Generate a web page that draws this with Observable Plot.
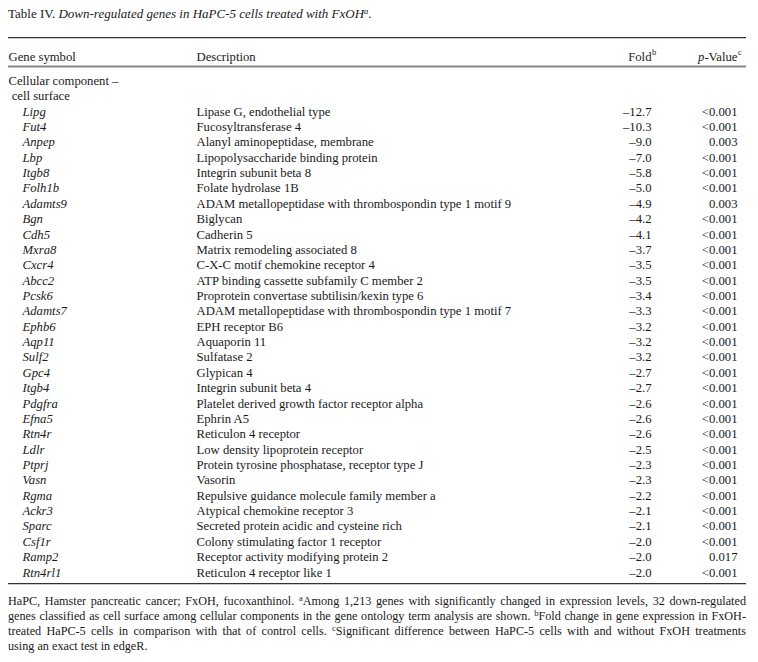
<!DOCTYPE html>
<html>
<head>
<meta charset="utf-8">
<script src="https://cdn.jsdelivr.net/npm/d3@7"></script>
<script src="https://cdn.jsdelivr.net/npm/@observablehq/plot@0.6"></script>
<style>
  html, body { margin: 0; padding: 0; background: #fff; }
  #wrap { width: 758px; font-family: "Liberation Serif", serif; color: #1a1a1a; }
  #title { box-sizing: border-box; height: 28px; padding: 6px 0 0 8px; font-size: 13px; line-height: 15px; white-space: nowrap; }
  #title sup, #foot sup { font-size: 8.5px; line-height: 0; vertical-align: 4px; }
  #foot { box-sizing: border-box; width: 746px; padding: 7.5px 0 0 8px; font-size: 12.2px; line-height: 15.3px; }
  #foot .ln { text-align: justify; text-align-last: justify; white-space: nowrap; }
  #foot .ln.last { text-align-last: left; }
  svg { display: block; }
</style>
</head>
<body>
<div id="wrap">
  <div id="title">Table IV. <i>Down-regulated genes in HaPC-5 cells treated with FxOH<sup>a</sup></i>.</div>
  <div id="chart"></div>
  <div id="foot">
    <div class="ln">HaPC, Hamster pancreatic cancer; FxOH, fucoxanthinol. <sup>a</sup>Among 1,213 genes with significantly changed in expression levels, 32 down-regulated</div>
    <div class="ln">genes classified as cell surface among cellular components in the gene ontology term analysis are shown. <sup>b</sup>Fold change in gene expression in FxOH-</div>
    <div class="ln">treated HaPC-5 cells in comparison with that of control cells. <sup>c</sup>Significant difference between HaPC-5 cells with and without FxOH treatments</div>
    <div class="ln last">using an exact test in edgeR.</div>
  </div>
</div>
<script>
// ---- data ----
const genes = ["Lipg","Fut4","Anpep","Lbp","Itgb8","Folh1b","Adamts9","Bgn","Cdh5","Mxra8","Cxcr4","Abcc2","Pcsk6","Adamts7","Ephb6","Aqp11","Sulf2","Gpc4","Itgb4","Pdgfra","Efna5","Rtn4r","Ldlr","Ptprj","Vasn","Rgma","Ackr3","Sparc","Csf1r","Ramp2","Rtn4rl1"];
const descriptions = [
  "Lipase G, endothelial type",
  "Fucosyltransferase 4",
  "Alanyl aminopeptidase, membrane",
  "Lipopolysaccharide binding protein",
  "Integrin subunit beta 8",
  "Folate hydrolase 1B",
  "ADAM metallopeptidase with thrombospondin type 1 motif 9",
  "Biglycan",
  "Cadherin 5",
  "Matrix remodeling associated 8",
  "C-X-C motif chemokine receptor 4",
  "ATP binding cassette subfamily C member 2",
  "Proprotein convertase subtilisin/kexin type 6",
  "ADAM metallopeptidase with thrombospondin type 1 motif 7",
  "EPH receptor B6",
  "Aquaporin 11",
  "Sulfatase 2",
  "Glypican 4",
  "Integrin subunit beta 4",
  "Platelet derived growth factor receptor alpha",
  "Ephrin A5",
  "Reticulon 4 receptor",
  "Low density lipoprotein receptor",
  "Protein tyrosine phosphatase, receptor type J",
  "Vasorin",
  "Repulsive guidance molecule family member a",
  "Atypical chemokine receptor 3",
  "Secreted protein acidic and cysteine rich",
  "Colony stimulating factor 1 receptor",
  "Receptor activity modifying protein 2",
  "Reticulon 4 receptor like 1"
];
const folds = [-12.7,-10.3,-9.0,-7.0,-5.8,-5.0,-4.9,-4.2,-4.1,-3.7,-3.5,-3.5,-3.4,-3.3,-3.2,-3.2,-3.2,-2.7,-2.7,-2.6,-2.6,-2.6,-2.5,-2.3,-2.3,-2.2,-2.1,-2.1,-2.0,-2.0,-2.0];
const pValues = ["<0.001","<0.001","0.003","<0.001","<0.001","<0.001","0.003","<0.001","<0.001","<0.001","<0.001","<0.001","<0.001","<0.001","<0.001","<0.001","<0.001","<0.001","<0.001","<0.001","<0.001","<0.001","<0.001","<0.001","<0.001","<0.001","<0.001","<0.001","<0.001","0.017","<0.001"];
const categoryLines = ["Cellular component \u2013", " cell surface"];
const headers = ["Gene symbol", "Description"];

// ---- layout ----
const FS = 12.7;
const FONT = "Liberation Serif";
const TOP = 28;                 // svg top in page coords
const H = 558;
const col = {left: 8, gene: 22, desc: 196, fold: 651, p: 737, right: 746};
const rowY = {top: -4.81, header: -3.58, headerRule: -2.93, bottom: 30.72};

const rows = genes.map((g, i) => ({i, gene: g, desc: descriptions[i], fold: folds[i], p: pValues[i]}));
const fmtFold = v => (v < 0 ? "\u2013" : "") + Math.abs(v).toFixed(1);

// measure header widths
const ctx = document.createElement("canvas").getContext("2d");
ctx.font = `${FS}px "${FONT}"`;
const wValue = ctx.measureText("-Value").width;
const foldEnd = 651;
const pEnd = 737;

const svg = Plot.plot({
  width: 758,
  height: H,
  margin: 0,
  style: {fontFamily: FONT, fontSize: FS + "px", color: "#1a1a1a", background: "#fff", overflow: "visible"},
  x: {type: "linear", domain: [0, 758], range: [0, 758], axis: null},
  y: {type: "linear", domain: [0, 30], range: [111 - TOP, 572 - TOP], axis: null},
  marks: [
    Plot.ruleY([rowY.top], {x1: col.left, x2: col.right, stroke: "#333", strokeWidth: 1.3}),
    Plot.ruleY([rowY.headerRule], {x1: col.left, x2: col.right, stroke: "#888", strokeWidth: 2.2}),
    Plot.ruleY([rowY.bottom], {x1: col.left, x2: col.right, stroke: "#333", strokeWidth: 1.3}),
    // headers
    Plot.text([headers[0]], {x: col.left, y: rowY.header, text: d => d, textAnchor: "start", fontSize: FS}),
    Plot.text([headers[1]], {x: col.desc, y: rowY.header, text: d => d, textAnchor: "start", fontSize: FS}),
    Plot.text(["Fold"], {x: foldEnd, y: rowY.header, text: d => d, textAnchor: "end", fontSize: FS}),
    Plot.text(["b"], {x: foldEnd + 0.5, y: rowY.header, text: d => d, textAnchor: "start", fontSize: 8.5, dy: -4}),
    Plot.text(["-Value"], {x: pEnd, y: rowY.header, text: d => d, textAnchor: "end", fontSize: FS}),
    Plot.text(["p"], {x: pEnd - wValue, y: rowY.header, text: d => d, textAnchor: "end", fontSize: FS, fontStyle: "italic"}),
    Plot.text(["c"], {x: pEnd + 0.5, y: rowY.header, text: d => d, textAnchor: "start", fontSize: 8.5, dy: -4}),
    // category
    Plot.text(categoryLines, {x: col.left, y: (d, i) => i - 2, text: d => d, textAnchor: "start", fontSize: FS}),
    // body
    Plot.text(rows, {x: col.gene, y: "i", text: "gene", textAnchor: "start", fontStyle: "italic", fontSize: FS}),
    Plot.text(rows, {x: col.desc, y: "i", text: "desc", textAnchor: "start", fontSize: FS}),
    Plot.text(rows, {x: col.fold, y: "i", text: d => fmtFold(d.fold), textAnchor: "end", fontSize: FS}),
    Plot.text(rows, {x: col.p, y: "i", text: "p", textAnchor: "end", fontSize: FS})
  ]
});
svg.querySelectorAll("text").forEach(t => t.setAttribute("xml:space", "preserve"));
svg.style.whiteSpace = "pre";
document.getElementById("chart").appendChild(svg);
</script>
</body>
</html>
